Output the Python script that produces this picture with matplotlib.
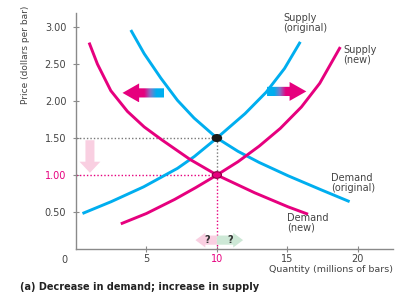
import numpy as np
import matplotlib
matplotlib.use("Agg")
import matplotlib.pyplot as plt
from matplotlib.patches import Polygon, Ellipse
from matplotlib.colors import LinearSegmentedColormap

# ---- data ----
supply_orig_q = [0.46, 2.5, 4.8, 7.2, 8.4, 10.0, 12.0, 13.5, 14.8, 15.92]
supply_orig_p = [0.48, 0.64, 0.84, 1.09, 1.25, 1.50, 1.83, 2.12, 2.44, 2.80]
supply_new_q = [3.18, 5.0, 7.0, 8.5, 10.0, 11.5, 13.0, 14.5, 16.0, 17.3, 18.76]
supply_new_p = [0.34, 0.48, 0.67, 0.83, 1.00, 1.18, 1.39, 1.63, 1.92, 2.24, 2.73]
demand_orig_q = [3.89, 4.84, 6.02, 7.2, 8.38, 10.0, 11.5, 13.0, 15.05, 17.4, 19.42]
demand_orig_p = [2.96, 2.64, 2.31, 2.01, 1.77, 1.50, 1.32, 1.17, 0.99, 0.80, 0.64]
demand_new_q = [0.93, 1.52, 2.47, 3.65, 4.84, 6.13, 8.1, 10.0, 12.68, 15.05, 16.47]
demand_new_p = [2.79, 2.50, 2.14, 1.86, 1.65, 1.47, 1.21, 1.00, 0.76, 0.57, 0.47]

eq_orig = (10, 1.50)
eq_new = (10, 1.00)

x_ticks = [5, 10, 15, 20]
x_ticklabels = ["5", "10", "15", "20"]
y_ticks = [0.5, 1.0, 1.5, 2.0, 2.5, 3.0]
y_ticklabels = ["0.50", "1.00", "1.50", "2.00", "2.50", "3.00"]

BLUE = "#00AEEF"
MAG = "#E6007E"
GRAY = "#444444"
AX = "#8a8a8a"

fig = plt.figure(figsize=(3.96, 2.93), dpi=100)
ax = fig.add_axes([76 / 396, 1 - 249 / 293, 317 / 396, 236 / 293])
ax.set_xlim(0, 22.5)
ax.set_ylim(0, 3.19)

for s in ["top", "right"]:
    ax.spines[s].set_visible(False)
for s in ["left", "bottom"]:
    ax.spines[s].set_color(AX)
    ax.spines[s].set_linewidth(1.0)

ax.set_xticks(x_ticks)
ax.set_xticklabels(x_ticklabels)
ax.set_yticks(y_ticks)
ax.set_yticklabels(y_ticklabels)
ax.tick_params(axis="both", direction="inout", length=4, width=0.8, color=AX,
               labelsize=7, labelcolor=GRAY)
ax.tick_params(axis="x", pad=1.5)
ax.tick_params(axis="y", pad=5)
ax.get_yticklabels()[1].set_color(MAG)
ax.get_xticklabels()[1].set_color(MAG)
ax.text(-0.6, -0.08, "0", ha="right", va="top", fontsize=7, color=GRAY)

# dotted guide lines
ax.plot([0, eq_orig[0]], [eq_orig[1], eq_orig[1]], ls=(0, (1, 1.5)), color="#777777", lw=1)
ax.plot([eq_orig[0], eq_new[0]], [eq_orig[1], eq_new[1]], ls=(0, (1, 1.5)), color="#777777", lw=1)
ax.plot([0, eq_new[0]], [eq_new[1], eq_new[1]], ls=(0, (1, 1.5)), color=MAG, lw=1)
ax.plot([eq_new[0], eq_new[0]], [eq_new[1], 0], ls=(0, (1, 1.5)), color=MAG, lw=1)

# curves
lw = 2.1
ax.plot(supply_orig_q, supply_orig_p, color=BLUE, lw=lw, solid_capstyle="butt", solid_joinstyle="round")
ax.plot(demand_orig_q, demand_orig_p, color=BLUE, lw=lw, solid_capstyle="butt", solid_joinstyle="round")
ax.plot(supply_new_q, supply_new_p, color=MAG, lw=lw, solid_capstyle="butt", solid_joinstyle="round")
ax.plot(demand_new_q, demand_new_p, color=MAG, lw=lw, solid_capstyle="butt", solid_joinstyle="round")

# equilibrium dots
ax.add_patch(Ellipse(eq_orig, 0.65, 0.09, facecolor="#1a1a1a", edgecolor="#1a1a1a", zorder=5))
ax.add_patch(Ellipse(eq_new, 0.65, 0.09, facecolor=MAG, edgecolor="#8a0040", lw=0.8, zorder=5))


def arrow_poly(x0, x1, yc, bh, hh, hl):
    # horizontal arrow from x0 (tail) to x1 (tip)
    d = 1 if x1 > x0 else -1
    xh = x1 - d * hl
    return [(x0, yc - bh), (xh, yc - bh), (xh, yc - hh), (x1, yc),
            (xh, yc + hh), (xh, yc + bh), (x0, yc + bh)]


def gradient_arrow(x0, x1, yc, bh, hh, hl, c0, c1):
    pts = arrow_poly(x0, x1, yc, bh, hh, hl)
    poly = Polygon(pts, closed=True, facecolor="none", edgecolor="none")
    ax.add_patch(poly)
    cmap = LinearSegmentedColormap.from_list(
        "g", [(0, c0), (0.18, c0), (0.32, "#7F78C8"), (0.47, c1), (1, c1)])
    grad = np.linspace(0, 1, 256).reshape(1, -1)
    xl, xr = min(x0, x1), max(x0, x1)
    if x1 < x0:
        grad = grad[:, ::-1]
    im = ax.imshow(grad, cmap=cmap, aspect="auto", extent=[xl, xr, yc - hh, yc + hh],
                   origin="lower", zorder=4, interpolation="bilinear")
    im.set_clip_path(poly)


# shift arrows
gradient_arrow(6.28, 3.30, 2.11, 0.062, 0.128, 1.18, BLUE, MAG)
gradient_arrow(13.56, 16.35, 2.13, 0.062, 0.128, 1.19, BLUE, MAG)

# price-down arrow (light pink)
px, ptop, ptip = 0.99, 1.47, 1.03
bw, hw, hl = 0.32, 0.74, 0.15
ax.add_patch(Polygon([(px - bw, ptop), (px - bw, ptip + hl), (px - hw, ptip + hl), (px, ptip),
                      (px + hw, ptip + hl), (px + bw, ptip + hl), (px + bw, ptop)],
                     closed=True, facecolor="#F9CFE1", edgecolor="none", zorder=3))

# quantity ambiguity arrows
ax.add_patch(Polygon(arrow_poly(10, 8.48, 0.12, 0.062, 0.10, 0.7), closed=True,
                     facecolor="#F9CFE1", edgecolor="none", zorder=3))
ax.add_patch(Polygon(arrow_poly(10, 11.86, 0.12, 0.062, 0.10, 0.7), closed=True,
                     facecolor="#CDE8D6", edgecolor="none", zorder=3))
ax.text(9.33, 0.12, "?", ha="center", va="center", fontsize=7, fontweight="bold", color="#333333", zorder=6)
ax.text(10.96, 0.12, "?", ha="center", va="center", fontsize=7, fontweight="bold", color="#333333", zorder=6)

# curve labels
lab = dict(fontsize=7, color=GRAY, ha="left", va="top", linespacing=0.95)
fig.text(283 / 396, 1 - 13 / 293, "Supply\n(original)", **lab)
fig.text(343 / 396, 1 - 45 / 293, "Supply\n(new)", **lab)
fig.text(331 / 396, 1 - 173 / 293, "Demand\n(original)", **lab)
fig.text(287 / 396, 1 - 213 / 293, "Demand\n(new)", **lab)

# axis labels and caption
fig.text(26 / 396, 1 - 55 / 293, "Price (dollars per bar)", rotation=90, ha="center", va="center",
         fontsize=6.5, color=GRAY)
fig.text(393 / 396, 1 - 270 / 293, "Quantity (millions of bars)", ha="right", va="center",
         fontsize=6.8, color=GRAY)
fig.text(20 / 396, 1 - 287 / 293, "(a) Decrease in demand; increase in supply", ha="left", va="center",
         fontsize=7, fontweight="bold", color="#222222")

fig.savefig("out.png", dpi=100)
